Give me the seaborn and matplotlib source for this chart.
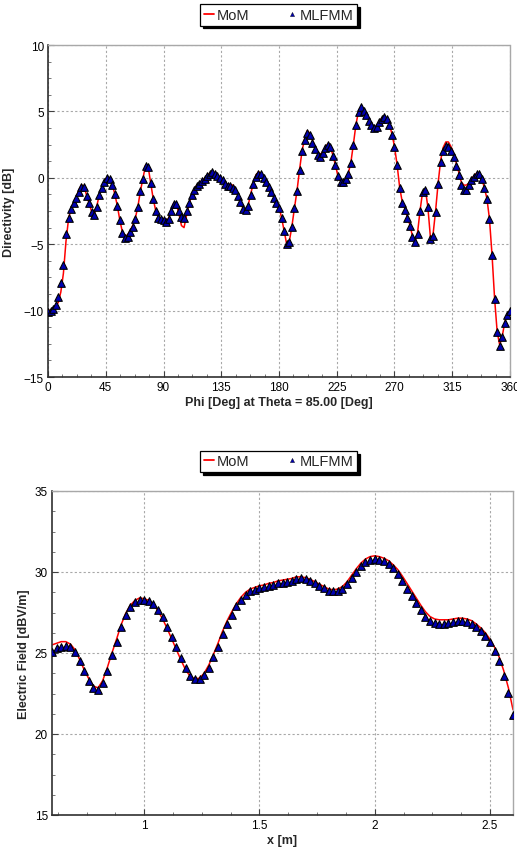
import numpy as np
import pandas as pd
import matplotlib
matplotlib.use('Agg')
import matplotlib.pyplot as plt
from matplotlib.lines import Line2D
from matplotlib.ticker import MultipleLocator
import seaborn as sns

# --- data ---

# top: directivity vs phi, 2 deg steps from 0 to 360
phi = list(range(0, 361, 2))
dir_mlfmm = [
    -10.1, -10.0, -9.85, -9.6, -9.0, -7.9, -6.6, -4.2, -3.05, -2.35,
    -1.9, -1.5, -1.05, -0.7, -0.7, -1.35, -1.9, -2.6, -2.8, -2.2,
    -1.3, -0.75, -0.35, -0.05, -0.1, -0.55, -1.2, -2.1, -3.2, -4.15,
    -4.5, -4.45, -4.1, -3.7, -3.1, -2.2, -1.0, -0.1, 0.9, 0.8,
    -0.4, -1.6, -2.5, -3.0, -3.1, -3.15, -3.3, -3.1, -2.5, -1.95,
    -2.0, -2.5, -2.95, -3.0, -2.5, -1.9, -1.3, -0.9, -0.6, -0.45,
    -0.25, -0.1, 0.1, 0.3, 0.45, 0.3, 0.15, 0.0, -0.2, -0.45,
    -0.6, -0.65, -0.75, -0.9, -1.35, -1.8, -2.35, -2.45, -2.1, -1.3,
    -0.5, 0.05, 0.3, 0.25, 0.0, -0.3, -0.7, -1.1, -1.5, -1.9,
    -2.25, -3.05, -4.0, -5.0, -4.8, -3.7, -2.3, -1.0, 0.6, 2.0,
    2.85, 3.35, 3.2, 2.65, 2.2, 1.75, 1.6, 1.85, 2.25, 2.5,
    2.3, 1.65, 0.95, 0.1, -0.3, -0.35, -0.1, 0.3, 1.1, 2.5,
    4.0, 4.95, 5.3, 5.05, 4.7, 4.3, 3.95, 3.75, 3.85, 4.2,
    4.45, 4.6, 4.45, 4.0, 3.25, 2.3, 0.95, -0.8, -1.9, -2.4,
    -3.0, -3.6, -4.45, -4.85, -4.2, -2.5, -1.1, -0.9, -2.2, -4.6,
    -4.4, -2.6, -0.5, 1.2, 2.0, 2.4, 2.35, 2.0, 1.55, 0.9,
    0.2, -0.55, -0.9, -0.9, -0.55, -0.15, 0.05, 0.3, 0.25, -0.1,
    -0.8, -1.6, -3.1, -5.8, -9.1, -11.6, -12.7, -12.0, -10.9, -10.3,
    -10.0,
]
dir_mom = [
    -10.05, -9.95, -9.8, -9.6, -9.4, -8.6, -7.2, -4.8, -3.1, -2.3,
    -1.85, -1.45, -0.95, -0.55, -0.6, -1.3, -1.9, -2.55, -2.75, -2.15,
    -1.25, -0.7, -0.3, 0.05, -0.05, -0.5, -1.2, -2.1, -3.2, -4.1,
    -4.4, -4.3, -4.0, -3.6, -3.05, -2.2, -1.0, -0.05, 0.95, 0.85,
    -0.4, -1.6, -2.5, -3.0, -3.1, -3.15, -3.25, -3.05, -2.45, -1.9,
    -2.0, -2.7, -3.6, -3.75, -2.8, -1.95, -1.25, -0.85, -0.55, -0.4,
    -0.2, -0.05, 0.15, 0.35, 0.5, 0.35, 0.2, 0.05, -0.15, -0.35,
    -0.5, -0.5, -0.55, -0.8, -1.3, -1.8, -2.35, -2.45, -2.05, -1.2,
    -0.4, 0.2, 0.45, 0.35, 0.05, -0.25, -0.65, -1.05, -1.45, -1.85,
    -2.2, -3.0, -4.0, -5.0, -4.8, -3.7, -2.3, -1.0, 0.6, 2.05,
    2.95, 3.55, 3.35, 2.85, 2.35, 1.95, 1.75, 1.95, 2.3, 2.55,
    2.35, 1.7, 0.95, 0.1, -0.25, -0.3, -0.05, 0.35, 1.15, 2.55,
    4.05, 5.0, 5.35, 5.1, 4.75, 4.35, 4.0, 3.8, 3.9, 4.25,
    4.5, 4.65, 4.5, 4.05, 3.3, 2.35, 1.0, -0.7, -1.8, -2.3,
    -2.95, -3.55, -4.4, -4.8, -4.1, -2.4, -1.0, -0.85, -2.2, -4.5,
    -4.3, -2.5, -0.4, 1.35, 2.3, 2.7, 2.7, 2.35, 1.85, 1.15,
    0.45, -0.3, -0.55, -0.55, -0.4, -0.05, 0.15, 0.35, 0.3, -0.05,
    -0.75, -1.55, -3.1, -5.8, -9.1, -11.6, -12.6, -11.9, -10.85, -10.25,
    -10.0,
]

# bottom: electric field vs x, 0.02 m steps from 0.6 to 2.6
x_m = [round(0.6 + 0.02 * i, 2) for i in range(101)]
ef_mlfmm = [
    25.05, 25.3, 25.4, 25.45, 25.35, 25.05, 24.5, 23.9, 23.3, 22.85,
    22.7, 23.15, 23.9, 24.85, 25.7, 26.6, 27.35, 27.85, 28.15, 28.3,
    28.3, 28.2, 28.0, 27.65, 27.2, 26.6, 26.0, 25.35, 24.7, 24.05,
    23.6, 23.4, 23.4, 23.65, 24.1, 24.75, 25.4, 26.15, 26.8, 27.35,
    27.9, 28.3, 28.6, 28.8, 28.9, 29.0, 29.1, 29.15, 29.2, 29.3,
    29.35, 29.4, 29.45, 29.55, 29.6, 29.55, 29.45, 29.3, 29.15, 29.0,
    28.85, 28.8, 28.8, 28.95, 29.25, 29.6, 30.0, 30.35, 30.6, 30.75,
    30.8, 30.75, 30.65, 30.5, 30.25, 29.9, 29.45, 28.95, 28.5, 28.1,
    27.65, 27.25, 26.95, 26.85, 26.8, 26.8, 26.85, 26.9, 26.95, 26.95,
    26.9, 26.8, 26.6, 26.35, 26.05, 25.65, 25.1, 24.5, 23.6, 22.55,
    21.2,
]
ef_mom = [
    25.5, 25.6, 25.7, 25.7, 25.55, 25.2, 24.6, 23.95, 23.4, 22.95,
    22.85, 23.3, 24.1, 25.0, 25.85, 26.75, 27.45, 27.95, 28.25, 28.4,
    28.35, 28.25, 28.0, 27.6, 27.1, 26.5, 25.85, 25.2, 24.55, 23.95,
    23.55, 23.4, 23.45, 23.75, 24.25, 24.9, 25.6, 26.35, 27.0, 27.55,
    28.05, 28.45, 28.75, 28.95, 29.05, 29.15, 29.2, 29.3, 29.35, 29.45,
    29.5, 29.55, 29.6, 29.7, 29.7, 29.65, 29.55, 29.4, 29.25, 29.1,
    28.95, 28.9, 28.95, 29.1, 29.4, 29.8, 30.2, 30.55, 30.8, 30.95,
    31.0, 30.95, 30.85, 30.7, 30.45, 30.15, 29.75, 29.3, 28.85, 28.4,
    27.95, 27.55, 27.25, 27.1, 27.05, 27.05, 27.05, 27.1, 27.15, 27.15,
    27.1, 27.0, 26.8, 26.55, 26.25, 25.85, 25.35, 24.75, 23.9, 22.85,
    21.5,
]

sns.set_theme(style='white')
plt.rcParams['font.family'] = ['Liberation Sans', 'DejaVu Sans']

fig = plt.figure(figsize=(5.17, 8.54), dpi=100)
ax1 = fig.add_axes([48 / 517, 1 - 378 / 854, 462 / 517, 332 / 854])
ax2 = fig.add_axes([52 / 517, 1 - 816 / 854, 461 / 517, 324 / 854])

mom_kw = dict(color='#ff0000', linewidth=1.1, estimator=None, sort=False, zorder=2)
mlfmm_kw = dict(marker='^', s=30, color='#0000b4', edgecolor='black', linewidth=0.8,
                zorder=3)

df_top = pd.DataFrame({'phi': phi, 'MoM': dir_mom, 'MLFMM': dir_mlfmm})
sns.lineplot(data=df_top, x='phi', y='MoM', ax=ax1, **mom_kw)
sns.scatterplot(data=df_top, x='phi', y='MLFMM', ax=ax1, **mlfmm_kw)

df_bot = pd.DataFrame({'x': x_m, 'MoM': ef_mom, 'MLFMM': ef_mlfmm})
sns.lineplot(data=df_bot, x='x', y='MoM', ax=ax2, **mom_kw)
sns.scatterplot(data=df_bot, x='x', y='MLFMM', ax=ax2, **mlfmm_kw)

ax1.set_xlim(0, 360)
ax1.set_ylim(-15, 10)
ax1.xaxis.set_major_locator(MultipleLocator(45))
ax1.xaxis.set_minor_locator(MultipleLocator(11.25))
ax1.yaxis.set_major_locator(MultipleLocator(5))
ax1.yaxis.set_minor_locator(MultipleLocator(1.25))
ax1.set_xlabel('Phi [Deg] at Theta = 85.00 [Deg]', fontsize=9, fontweight='bold', labelpad=2)
ax1.set_ylabel('Directivity [dB]', fontsize=9, fontweight='bold', labelpad=6)

ax2.set_xlim(0.6, 2.6)
ax2.set_ylim(15, 35)
ax2.set_xticks([1, 1.5, 2, 2.5])
ax2.set_xticklabels(['1', '1.5', '2', '2.5'])
ax2.xaxis.set_minor_locator(MultipleLocator(0.125))
ax2.yaxis.set_major_locator(MultipleLocator(5))
ax2.yaxis.set_minor_locator(MultipleLocator(1.25))
ax2.set_xlabel('x [m]', fontsize=9, fontweight='bold', labelpad=2)
ax2.set_ylabel('Electric Field [dBV/m]', fontsize=9, fontweight='bold', labelpad=3)

handles = [
    Line2D([], [], color='#ff0000', linewidth=1.3),
    Line2D([], [], color='#0000b4', marker='^', markersize=3, linestyle='None',
           markeredgecolor='black', markeredgewidth=0.3),
]
labels = ['MoM', 'MLFMM']

for ax, ly in ((ax1, 1 - 16 / 854), (ax2, 1 - 462.5 / 854)):
    ax.grid(True, which='major', color='#a8a8a8', linestyle=(0, (2, 2)), linewidth=0.8)
    ax.set_axisbelow(True)
    for side in ('top', 'right'):
        ax.spines[side].set_color('#a8a8a8')
        ax.spines[side].set_linestyle((0, (2, 1)))
        ax.spines[side].set_linewidth(1.0)
    for side in ('left', 'bottom'):
        ax.spines[side].set_color('#303030')
        ax.spines[side].set_linewidth(1.2)
    ax.tick_params(which='major', direction='in', length=4, width=0.8, labelsize=8.5,
                   colors='#404040', labelcolor='black', pad=3, left=True, bottom=True)
    ax.tick_params(which='minor', direction='in', length=2.5, width=0.6,
                   colors='#606060', left=True, bottom=True)
    leg = ax.legend(handles, labels, loc='center', bbox_to_anchor=(0.539, ly),
                    bbox_transform=fig.transFigure, ncol=2, fontsize=10.5,
                    frameon=True, fancybox=False, framealpha=1, edgecolor='black',
                    handlelength=0.7, handletextpad=0.15, columnspacing=2.6,
                    borderpad=0.25, borderaxespad=0,
                    shadow={'facecolor': 'black', 'edgecolor': 'black', 'alpha': 1})
    leg.get_frame().set_linewidth(0.9)

fig.savefig('out.png', dpi=100)
